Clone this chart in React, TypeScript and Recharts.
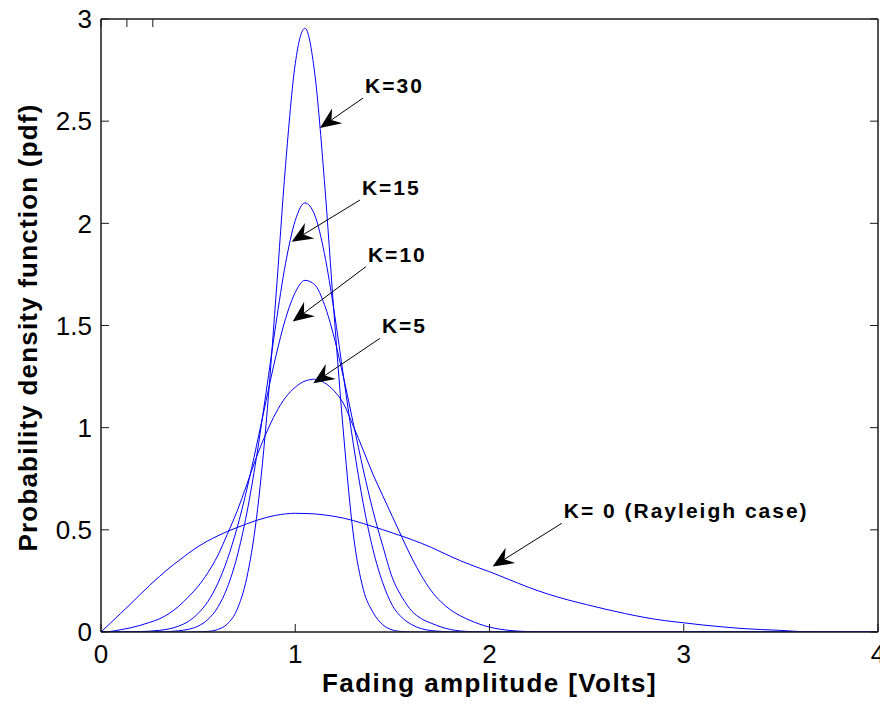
import React from 'react';
import { LineChart, Line, XAxis, YAxis, ReferenceLine } from 'recharts';

const FONT = '"Liberation Sans", Arial, Helvetica, sans-serif';

// Fading amplitude grid [Volts]
const xs = [
  0, 0.05, 0.1, 0.15, 0.2, 0.25, 0.3, 0.35, 0.4, 0.45,
  0.5, 0.55, 0.6, 0.65, 0.7, 0.75, 0.8, 0.85, 0.9, 0.95,
  1.0, 1.05, 1.1, 1.15, 1.2, 1.25, 1.3, 1.35, 1.4, 1.45,
  1.5, 1.55, 1.6, 1.65, 1.7, 1.75, 1.8, 1.85, 1.9, 1.95,
  2.0, 2.1, 2.2, 2.3, 2.4, 2.5, 2.6, 2.7, 2.8, 2.9,
  3.0, 3.1, 3.2, 3.3, 3.4, 3.5, 3.6, 3.7, 3.8, 3.9, 4.0,
];

// K = 0 (Rayleigh case)
const k0 = [
  0, 0.045, 0.09, 0.135, 0.182, 0.228, 0.271, 0.312, 0.349, 0.385,
  0.418, 0.446, 0.47, 0.492, 0.511, 0.529, 0.546, 0.56, 0.571, 0.578,
  0.581, 0.58, 0.578, 0.573, 0.566, 0.557, 0.545, 0.531, 0.516, 0.501,
  0.485, 0.469, 0.452, 0.434, 0.414, 0.392, 0.37, 0.349, 0.33, 0.312,
  0.295, 0.257, 0.219, 0.186, 0.158, 0.134, 0.111, 0.09, 0.071, 0.056,
  0.045, 0.034, 0.025, 0.017, 0.012, 0.008, 0.002, 0, 0, 0, 0,
];

// K = 5
const k5 = [
  0, 0.003, 0.011, 0.02, 0.032, 0.047, 0.064, 0.09, 0.126, 0.172,
  0.224, 0.29, 0.372, 0.478, 0.59, 0.72, 0.855, 0.972, 1.072, 1.148,
  1.198, 1.228, 1.237, 1.22, 1.18, 1.115, 1.005, 0.89, 0.772, 0.668,
  0.565, 0.462, 0.362, 0.275, 0.202, 0.148, 0.108, 0.079, 0.057, 0.038,
  0.024, 0.008, 0.002, 0, 0, 0, 0, 0, 0, 0,
  0, 0, 0, 0, 0, 0, 0, 0, 0, 0, 0,
];

// K = 10
const k10 = [
  0, 0, 0, 0.001, 0.002, 0.004, 0.008, 0.015, 0.029, 0.052,
  0.091, 0.149, 0.235, 0.354, 0.508, 0.695, 0.909, 1.133, 1.349, 1.533,
  1.662, 1.721, 1.7, 1.603, 1.443, 1.239, 1.016, 0.795, 0.594, 0.423,
  0.265, 0.17, 0.102, 0.065, 0.043, 0.025, 0.012, 0.005, 0.002, 0,
  0, 0, 0, 0, 0, 0, 0, 0, 0, 0,
  0, 0, 0, 0, 0, 0, 0, 0, 0, 0, 0,
];

// K = 15
const k15 = [
  0, 0, 0, 0, 0, 0, 0, 0.002, 0.006, 0.013,
  0.029, 0.061, 0.119, 0.217, 0.367, 0.579, 0.853, 1.173, 1.505, 1.803,
  2.014, 2.1, 2.041, 1.853, 1.57, 1.24, 0.914, 0.629, 0.404, 0.242,
  0.13, 0.07, 0.036, 0.016, 0.007, 0.003, 0, 0, 0, 0,
  0, 0, 0, 0, 0, 0, 0, 0, 0, 0,
  0, 0, 0, 0, 0, 0, 0, 0, 0, 0, 0,
];

// K = 30
const k30 = [
  0, 0, 0, 0, 0, 0, 0, 0, 0, 0,
  0.001, 0.003, 0.012, 0.039, 0.109, 0.263, 0.554, 1.019, 1.633, 2.283,
  2.781, 2.955, 2.736, 2.209, 1.555, 0.954, 0.47, 0.21, 0.097, 0.036,
  0.01, 0.002, 0, 0, 0, 0, 0, 0, 0, 0,
  0, 0, 0, 0, 0, 0, 0, 0, 0, 0,
  0, 0, 0, 0, 0, 0, 0, 0, 0, 0, 0,
];

const xTicks = [0, 1, 2, 3, 4];
const yTicks = [0, 0.5, 1, 1.5, 2, 2.5, 3];

const seriesKeys = ['k0', 'k5', 'k10', 'k15', 'k30'];

// annotation labels: text, arrow tail and tip (data coordinates)
const annTexts = ['K=30', 'K=15', 'K=10', 'K=5', 'K= 0 (Rayleigh case)'];
const annTails = [
  { x: 1.349, y: 2.613 },
  { x: 1.333, y: 2.114 },
  { x: 1.364, y: 1.788 },
  { x: 1.436, y: 1.437 },
  { x: 2.372, y: 0.532 },
];
const annTips = [
  { x: 1.127, y: 2.467 },
  { x: 0.982, y: 1.91 },
  { x: 0.987, y: 1.519 },
  { x: 1.093, y: 1.217 },
  { x: 2.016, y: 0.32 },
];

const data = xs.map((x, i) => ({
  x,
  k0: k0[i],
  k5: k5[i],
  k10: k10[i],
  k15: k15[i],
  k30: k30[i],
}));

const TICK_LEN = 8;
const TICK_COLOR = '#1a1a1a';

const makeArrow = (text: string) => (p: any) => {
  const { x1, y1, x2, y2 } = p;
  const dx = x2 - x1;
  const dy = y2 - y1;
  const len = Math.hypot(dx, dy) || 1;
  const ux = dx / len;
  const uy = dy / len;
  const nx = -uy;
  const ny = ux;
  const L = 21;
  const W = 9;
  const N = 14;
  const bx = x2 - ux * L;
  const by = y2 - uy * L;
  const pts = `${x2},${y2} ${bx + nx * W},${by + ny * W} ${x2 - ux * N},${y2 - uy * N} ${bx - nx * W},${by - ny * W}`;
  return (
    <g>
      <line x1={x1} y1={y1} x2={x2 - ux * N} y2={y2 - uy * N} stroke="#000" strokeWidth={1} />
      <polygon points={pts} fill="#000" />
      <text
        x={x1 + 2}
        y={y1 - 5}
        fontFamily={FONT}
        fontWeight="bold"
        fontSize={21}
        letterSpacing={2}
        fill="#000"
      >
        {text}
      </text>
    </g>
  );
};

const BOTTOM_MARGIN = 13;
const LEFT_MARGIN = 9;

const BottomTick = (p: any) => {
  const { x, y, payload } = p;
  const ay = y - BOTTOM_MARGIN;
  return (
    <g>
      <line x1={x} y1={ay} x2={x} y2={ay - TICK_LEN} stroke={TICK_COLOR} strokeWidth={1} />
      <text
        x={x}
        y={y}
        dy="0.71em"
        textAnchor="middle"
        fontFamily={FONT}
        fontSize={26}
        fill="#000"
      >
        {payload.value}
      </text>
    </g>
  );
};

const LeftTick = (p: any) => {
  const { x, y, payload } = p;
  const ax = x + LEFT_MARGIN;
  return (
    <g>
      <line x1={ax} y1={y} x2={ax + TICK_LEN} y2={y} stroke={TICK_COLOR} strokeWidth={1} />
      <text
        x={x}
        y={y}
        dy="0.355em"
        textAnchor="end"
        fontFamily={FONT}
        fontSize={26}
        fill="#000"
      >
        {payload.value}
      </text>
    </g>
  );
};

const TopTick = (p: any) => {
  const { x, y } = p;
  return <line x1={x} y1={y} x2={x} y2={y + TICK_LEN} stroke={TICK_COLOR} strokeWidth={1} />;
};

const RightTick = (p: any) => {
  const { x, y } = p;
  return <line x1={x} y1={y} x2={x - TICK_LEN} y2={y} stroke={TICK_COLOR} strokeWidth={1} />;
};

const XLabel = (p: any) => {
  const vb = p.viewBox || { x: 101, y: 632, width: 777, height: 81 };
  return (
    <text
      x={vb.x + vb.width / 2}
      y={vb.y + vb.height - 21}
      textAnchor="middle"
      fontFamily={FONT}
      fontWeight="bold"
      fontSize={26}
      letterSpacing={1.4}
      fill="#000"
    >
      Fading amplitude [Volts]
    </text>
  );
};

const YLabel = (p: any) => {
  const vb = p.viewBox || { x: 8, y: 19, width: 93, height: 613 };
  const cx = vb.x + 20;
  const cy = vb.y + vb.height / 2 + 2;
  return (
    <text
      x={cx}
      y={cy}
      dy="0.36em"
      transform={`rotate(-90, ${cx}, ${cy})`}
      textAnchor="middle"
      fontFamily={FONT}
      fontWeight="bold"
      fontSize={26}
      letterSpacing={1.2}
      fill="#000"
    >
      Probability density function (pdf)
    </text>
  );
};

const axisLine = { stroke: '#1a1a1a', strokeWidth: 1.5 };

export default function App() {
  return (
    <div style={{ width: 888, height: 713, margin: '-8px 0 0 -8px', background: '#fff' }}>
      <LineChart
        width={888}
        height={713}
        data={data}
        margin={{ top: 18, right: 9, bottom: 0, left: 8 }}
      >
        <XAxis
          dataKey="x"
          type="number"
          domain={[0, 4]}
          ticks={xTicks}
          allowDataOverflow
          height={81}
          tickSize={0}
          tickMargin={BOTTOM_MARGIN}
          axisLine={axisLine}
          tickLine={false}
          tick={<BottomTick />}
          label={{ content: <XLabel /> }}
        />
        <XAxis
          xAxisId="top"
          orientation="top"
          type="number"
          domain={[0, 4]}
          ticks={xTicks}
          allowDataOverflow
          height={1}
          tickSize={0}
          tickMargin={0}
          axisLine={axisLine}
          tickLine={false}
          tick={<TopTick />}
        />
        <YAxis
          type="number"
          domain={[0, 3]}
          ticks={yTicks}
          allowDataOverflow
          width={93}
          tickSize={0}
          tickMargin={LEFT_MARGIN}
          axisLine={axisLine}
          tickLine={false}
          tick={<LeftTick />}
          label={{ content: <YLabel /> }}
        />
        <YAxis
          yAxisId="right"
          orientation="right"
          type="number"
          domain={[0, 3]}
          ticks={yTicks}
          allowDataOverflow
          width={1}
          tickSize={0}
          tickMargin={0}
          axisLine={axisLine}
          tickLine={false}
          tick={<RightTick />}
        />
        {seriesKeys.map((k) => (
          <Line
            key={k}
            dataKey={k}
            type="monotone"
            stroke="#0000ff"
            strokeWidth={1}
            dot={false}
            activeDot={false}
            isAnimationActive={false}
          />
        ))}
        {annTexts.map((t, i) => (
          <ReferenceLine
            key={t}
            segment={[annTails[i], annTips[i]]}
            shape={makeArrow(t)}
          />
        ))}
      </LineChart>
    </div>
  );
}
